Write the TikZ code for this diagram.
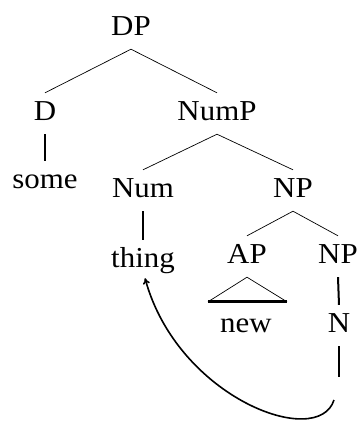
\documentclass[tikz,border=0pt]{standalone}
\usepackage{fontspec}
\setmainfont[FakeStretch=1.07]{Liberation Serif}
\usetikzlibrary{arrows.meta}

\begin{document}
\begin{tikzpicture}[x=1bp,y=-1bp,
    cat/.style={anchor=base,inner sep=10bp,text height=17bp,text depth=4bp,
      font=\fontsize{29}{34}\selectfont},
    branch/.style={line width=0.7bp},
    unary/.style={line width=2bp},
    move/.style={line width=1.6bp,-{To[length=6bp,width=7bp]}}]
  \useasboundingbox (0,0) rectangle (358,421);
  % categories
  \node[cat] (DP) at (131,35) {DP};
  \node[cat] (D) at (45,120) {D};
  \node[cat] (NumP) at (217,120) {NumP};
  \node[cat] (some) at (45,188) {some};
  \node[cat] (Num) at (143,197) {Num};
  \node[cat] (NP) at (293,197) {NP};
  \node[cat] (thing) at (143,267) {thing};
  \node[cat] (AP) at (247,263) {AP};
  \node[cat] (NPb) at (338,263) {NP};
  \node[cat] (new) at (246,332) {new};
  \node[cat] (N) at (339,332) {N};
  \coordinate (t) at (339,377);
  % branches
  \draw[branch] (DP.south) -- (D.north);
  \draw[branch] (DP.south) -- (NumP.north);
  \draw[branch] (NumP.south) -- (Num.north);
  \draw[branch] (NumP.south) -- (NP.north);
  \draw[branch] (NP.south) -- (AP.north);
  \draw[branch] (NP.south) -- (NPb.north);
  \draw[unary] (D.south) -- (some.north);
  \draw[unary] (Num.south) -- (thing.north);
  \draw[unary] (NPb.south) -- (N.north);
  \draw[unary] (N.south) -- (t);
  % triangle
  \draw[branch] ([xshift=-38bp,yshift=3bp]new.north) -- (AP.south)
    -- ([xshift=41bp,yshift=3bp]new.north);
  \draw[line width=3bp] ([xshift=-38bp,yshift=3bp]new.north)
    -- ([xshift=41bp,yshift=3bp]new.north);
  % movement
  \draw[move] ([xshift=-5bp,yshift=-23bp]t) .. controls (318,450) and (178,398)
    .. ([xshift=2bp,yshift=3bp]thing.south);
\end{tikzpicture}
\end{document}
